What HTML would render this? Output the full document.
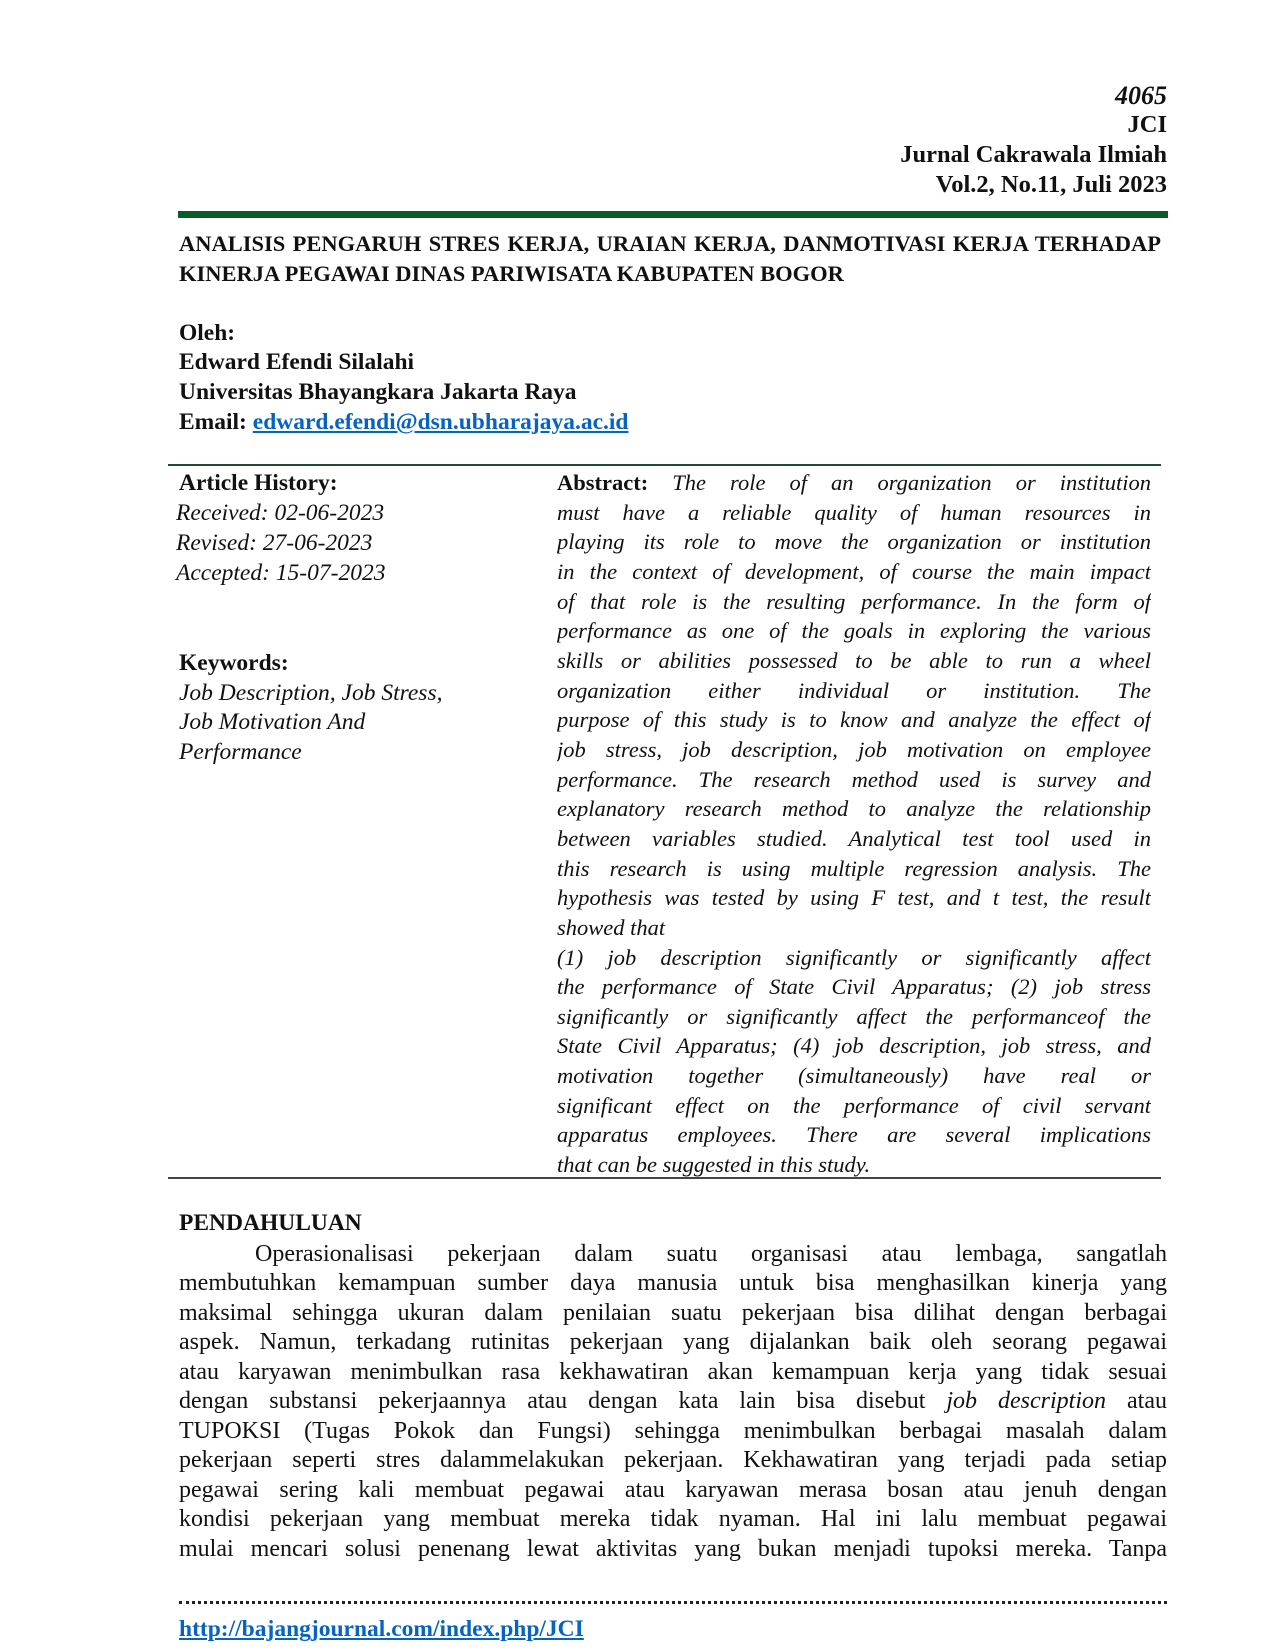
<!DOCTYPE html>
<html><head><meta charset="utf-8"><style>
body{margin:0;background:#fff;}
#p{position:relative;width:1275px;height:1650px;overflow:hidden;font-family:"Liberation Serif",serif;color:#111;}
.a{position:absolute;line-height:30px;height:30px;white-space:nowrap;}
.j{text-align:justify;text-align-last:justify;white-space:normal;overflow:hidden;}
.r{right:108px;text-align:right;font-weight:bold;font-size:24.5px;}
.b{font-weight:bold;}
.i{font-style:italic;}
.ab{left:557px;width:594px;font-size:22.5px;font-style:italic;}
.bd{left:179px;width:988px;font-size:24px;}
a{color:#0563c1;text-decoration:underline;}
</style></head><body><div id="p">
<div class="a r i" style="top:81px;font-size:26px">4065</div>
<div class="a r" style="top:110px">JCI</div>
<div class="a r" style="top:140px">Jurnal Cakrawala Ilmiah</div>
<div class="a r" style="top:170px">Vol.2, No.11, Juli 2023</div>
<div style="position:absolute;left:178px;width:990px;top:211px;height:7px;background:#0b5a2a"></div>
<div class="a b j" style="left:179px;width:982px;top:229px;font-size:22.5px">ANALISIS PENGARUH STRES KERJA, URAIAN KERJA, DANMOTIVASI KERJA TERHADAP</div>
<div class="a b" style="left:179px;top:259px;font-size:22.5px">KINERJA PEGAWAI DINAS PARIWISATA KABUPATEN BOGOR</div>
<div class="a b" style="left:179px;top:318px;font-size:23.5px">Oleh:</div>
<div class="a b" style="left:179px;top:347px;font-size:23.5px">Edward Efendi Silalahi</div>
<div class="a b" style="left:179px;top:377px;font-size:23.5px">Universitas Bhayangkara Jakarta Raya</div>
<div class="a b" style="left:179px;top:407px;font-size:23.5px">Email: <a>edward.efendi@dsn.ubharajaya.ac.id</a></div>
<div style="position:absolute;left:168px;width:993px;top:464px;height:2px;background:#1f4d2e"></div>
<div class="a b" style="left:179px;top:468px;font-size:23.5px">Article History:</div>
<div class="a i" style="left:176px;top:498px;font-size:23.5px">Received: 02-06-2023</div>
<div class="a i" style="left:176px;top:528px;font-size:23.5px">Revised: 27-06-2023</div>
<div class="a i" style="left:176px;top:558px;font-size:23.5px">Accepted: 15-07-2023</div>
<div class="a b" style="left:179px;top:648px;font-size:23.5px">Keywords:</div>
<div class="a i" style="left:179px;top:678px;font-size:23.5px">Job Description, Job Stress,</div>
<div class="a i" style="left:179px;top:707px;font-size:23.5px">Job Motivation And</div>
<div class="a i" style="left:179px;top:737px;font-size:23.5px">Performance</div>

<div class="a ab j" style="top:468px"><b style="font-style:normal">Abstract:</b> The role of an organization or institution</div>
<div class="a ab j" style="top:498px">must have a reliable quality of human resources in</div>
<div class="a ab j" style="top:527px">playing its role to move the organization or institution</div>
<div class="a ab j" style="top:557px">in the context of development, of course the main impact</div>
<div class="a ab j" style="top:587px">of that role is the resulting performance. In the form of</div>
<div class="a ab j" style="top:616px">performance as one of the goals in exploring the various</div>
<div class="a ab j" style="top:646px">skills or abilities possessed to be able to run a wheel</div>
<div class="a ab j" style="top:676px">organization either individual or institution. The</div>
<div class="a ab j" style="top:705px">purpose of this study is to know and analyze the effect of</div>
<div class="a ab j" style="top:735px">job stress, job description, job motivation on employee</div>
<div class="a ab j" style="top:765px">performance. The research method used is survey and</div>
<div class="a ab j" style="top:794px">explanatory research method to analyze the relationship</div>
<div class="a ab j" style="top:824px">between variables studied. Analytical test tool used in</div>
<div class="a ab j" style="top:854px">this research is using multiple regression analysis. The</div>
<div class="a ab j" style="top:883px">hypothesis was tested by using F test, and t test, the result</div>
<div class="a ab" style="top:913px">showed that</div>
<div class="a ab j" style="top:943px">(1) job description significantly or significantly affect</div>
<div class="a ab j" style="top:972px">the performance of State Civil Apparatus; (2) job stress</div>
<div class="a ab j" style="top:1002px">significantly or significantly affect the performanceof the</div>
<div class="a ab j" style="top:1031px">State Civil Apparatus; (4) job description, job stress, and</div>
<div class="a ab j" style="top:1061px">motivation together (simultaneously) have real or</div>
<div class="a ab j" style="top:1091px">significant effect on the performance of civil servant</div>
<div class="a ab j" style="top:1120px">apparatus employees. There are several implications</div>
<div class="a ab" style="top:1150px">that can be suggested in this study.</div>
<div style="position:absolute;left:168px;width:993px;top:1177px;height:2px;background:#444"></div>

<div class="a b" style="left:179px;top:1208px;font-size:23.5px">PENDAHULUAN</div>
<div class="a bd j" style="left:255px;width:912px;top:1239px">Operasionalisasi pekerjaan dalam suatu organisasi atau lembaga, sangatlah</div>
<div class="a bd j" style="top:1268px">membutuhkan kemampuan sumber daya manusia untuk bisa menghasilkan kinerja yang</div>
<div class="a bd j" style="top:1298px">maksimal sehingga ukuran dalam penilaian suatu pekerjaan bisa dilihat dengan berbagai</div>
<div class="a bd j" style="top:1327px">aspek. Namun, terkadang rutinitas pekerjaan yang dijalankan baik oleh seorang pegawai</div>
<div class="a bd j" style="top:1357px">atau karyawan menimbulkan rasa kekhawatiran akan kemampuan kerja yang tidak sesuai</div>
<div class="a bd j" style="top:1386px">dengan substansi pekerjaannya atau dengan kata lain bisa disebut <i>job description</i> atau</div>
<div class="a bd j" style="top:1416px">TUPOKSI (Tugas Pokok dan Fungsi) sehingga menimbulkan berbagai masalah dalam</div>
<div class="a bd j" style="top:1445px">pekerjaan seperti stres dalammelakukan pekerjaan. Kekhawatiran yang terjadi pada setiap</div>
<div class="a bd j" style="top:1475px">pegawai sering kali membuat pegawai atau karyawan merasa bosan atau jenuh dengan</div>
<div class="a bd j" style="top:1504px">kondisi pekerjaan yang membuat mereka tidak nyaman. Hal ini lalu membuat pegawai</div>
<div class="a bd j" style="top:1534px">mulai mencari solusi penenang lewat aktivitas yang bukan menjadi tupoksi mereka. Tanpa</div>
<div style="position:absolute;left:179px;width:988px;top:1601px;border-top:3px dotted #222"></div>
<div class="a b" style="left:179px;top:1614px;font-size:23.5px"><a>http://bajangjournal.com/index.php/JCI</a></div>
</div></body></html>
